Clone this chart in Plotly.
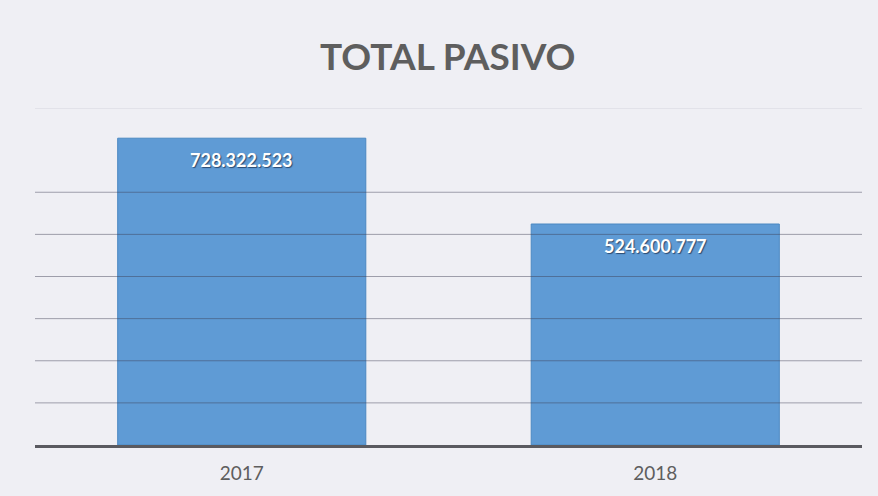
import plotly.graph_objects as go

categories = ["2017", "2018"]
values = [728322523, 524600777]
labels = ["728.322.523", "524.600.777"]
grid_values = [100000000, 200000000, 300000000, 400000000, 500000000, 600000000]
axis_max = 800000000

FONT = "Lato, Open Sans, sans-serif"

fig = go.Figure()
fig.add_trace(go.Bar(
    x=categories, y=values,
    marker=dict(color="#5f9bd5", line=dict(color="#4a88c2", width=1)),
    width=0.6,
))
for g in grid_values:
    fig.add_shape(type="line", xref="paper", yref="y", x0=0, x1=1, y0=g, y1=g,
                  layer="above", line=dict(color="rgba(60,60,80,0.45)", width=1))
for i, (v, t) in enumerate(zip(values, labels)):
    fig.add_annotation(x=i, y=v, xref="x", yref="y", text="<b>" + t + "</b>", showarrow=False,
                       yanchor="middle", yshift=-22,
                       font=dict(family=FONT, size=18, color="white",
                                 shadow="1px 1px 1px #2a4a70"))
fig.add_shape(type="line", xref="paper", yref="y", x0=0, x1=1, y0=axis_max, y1=axis_max,
              line=dict(color="#d6d6de", width=1))
fig.update_layout(
    width=878, height=496,
    paper_bgcolor="#efeff4", plot_bgcolor="#efeff4",
    margin=dict(l=35, r=16, t=108, b=51),
    title=dict(text="<b>TOTAL PASIVO</b>", x=0.51, xanchor="center", y=0.885, yanchor="middle",
               font=dict(family=FONT, size=37, color="#5e5e5e")),
    showlegend=False,
    bargap=0.4,
)
fig.update_xaxes(type="category", range=[-0.5, len(categories) - 0.5],
                 showline=True, linecolor="#5a5a60", linewidth=3, ticks="",
                 tickfont=dict(family=FONT, size=19, color="#5e5e5e"),
                 ticklabelstandoff=9)
fig.update_yaxes(range=[0, axis_max], showticklabels=False,
                 showgrid=False, zeroline=False)
fig.write_html("out.html", config={"displayModeBar": False},
               post_script="document.body.style.margin='0';document.body.style.background='#efeff4';")
